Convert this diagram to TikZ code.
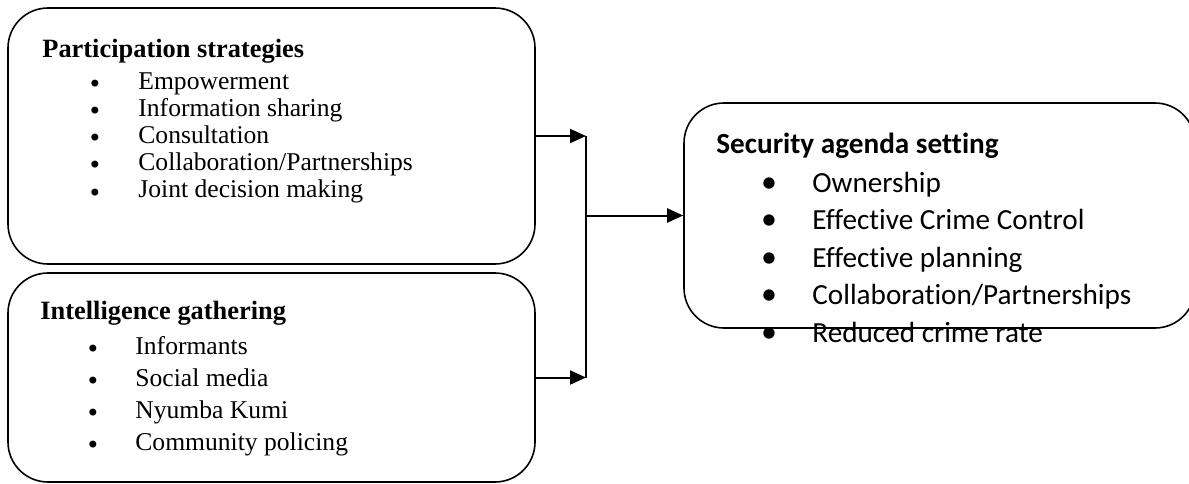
\documentclass[tikz,border=0pt]{standalone}
\usepackage{fontspec}
\setmainfont{Liberation Serif}
\newfontfamily\carlitofont[Ligatures={NoCommon}]{Carlito}
\newfontfamily\dejavufont{DejaVu Sans}
\usetikzlibrary{arrows.meta}
\tikzset{
  box/.style={draw, line width=0.8pt, rounded corners=20pt, inner sep=0pt, rectangle},
  conn/.style={line width=1pt},
  arr/.style={line width=1pt, -{Triangle[length=8pt,width=7pt]}},
  shead/.style={anchor=base west, inner sep=0pt, font=\fontsize{13.2pt}{15pt}\selectfont\bfseries},
  sitem/.style={anchor=base west, inner sep=0pt, font=\fontsize{12.8pt}{15pt}\selectfont},
  sbul/.style={anchor=center, inner sep=0pt, font=\dejavufont\fontsize{12pt}{12pt}\selectfont},
  chead/.style={anchor=base west, inner sep=0pt, font=\carlitofont\fontsize{14.6pt}{17pt}\selectfont\bfseries},
  citem/.style={anchor=base west, inner sep=0pt, font=\carlitofont\fontsize{14.6pt}{17pt}\selectfont},
  cbul/.style={anchor=center, inner sep=0pt, font=\carlitofont\fontsize{16pt}{18pt}\selectfont},
}
\begin{document}
\begin{tikzpicture}[x=0.5pt,y=-0.5pt]
\clip (0,0) rectangle (1189,483);
% boxes
\node[box, minimum width=263.5pt, minimum height=128pt] (ps) at (271.5,136) {};
\node[box, minimum width=263.5pt, minimum height=104.5pt] (ig) at (271.5,377.5) {};
\node[box, minimum width=255.5pt, minimum height=112.5pt] (sa) at (939.5,215.5) {};
% participation strategies
\node[shead] (psh) at (42,57) {Participation strategies};
\foreach \t [count=\i] in {Empowerment, Information sharing, Consultation, Collaboration/Partnerships, Joint decision making} {
  \node[sbul] (psb\i) at (95,{89+27.2*(\i-1)-3}) {•};
  \node[sitem] (pst\i) at (138,{89+27.2*(\i-1)}) {\t};
}
% intelligence gathering
\node[shead] (igh) at (40,319) {Intelligence gathering};
\foreach \t [count=\i] in {Informants, Social media, Nyumba Kumi, Community policing} {
  \node[sbul] (igb\i) at (93,{354+32*(\i-1)-3}) {•};
  \node[sitem] (igt\i) at (135,{354+32*(\i-1)}) {\t};
}
% security agenda setting
\node[chead] (sah) at (716,153) {Security agenda setting};
\foreach \t [count=\i] in {Ownership, Effective Crime Control, Effective planning, Collaboration/Partnerships, Reduced crime rate} {
  \node[cbul] (sab\i) at (769,{192+37.5*(\i-1)-7}) {•};
  \node[citem] (sat\i) at (812,{192+37.5*(\i-1)}) {\t};
}
% connectors
\coordinate (ja) at (586,136);
\coordinate (jb) at (586,377.5);
\coordinate (jm) at (586,215.5);
\draw[arr] (ps.east) -- (ja);
\draw[arr] (ig.east) -- (jb);
\draw[conn] (ja) -- (jb);
\draw[arr] (jm) -- (sa.west);
\end{tikzpicture}
\end{document}
